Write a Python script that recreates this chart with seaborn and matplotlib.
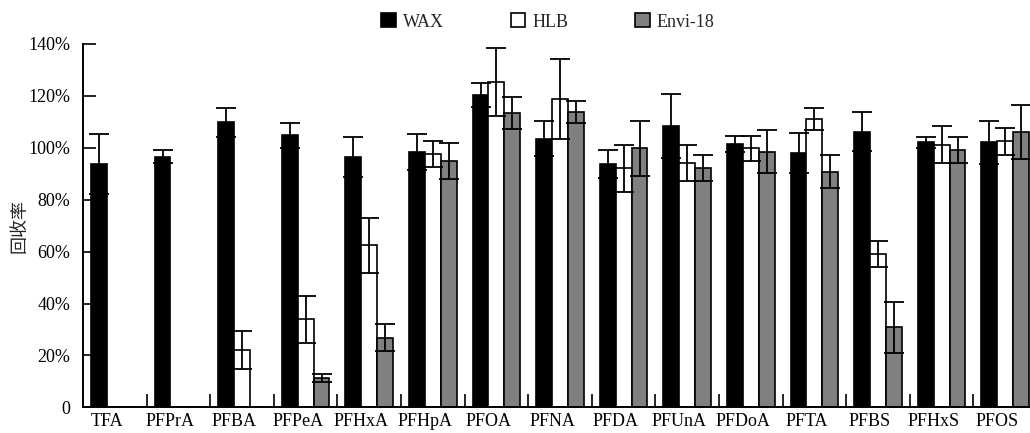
import numpy as np
import pandas as pd
import matplotlib
matplotlib.use("Agg")
import matplotlib.pyplot as plt
import seaborn as sns
from matplotlib.patches import Patch
from matplotlib.ticker import FixedLocator, FuncFormatter
from matplotlib.transforms import ScaledTranslation

# recovery (%) and standard deviation
compounds = ["TFA", "PFPrA", "PFBA", "PFPeA", "PFHxA", "PFHpA", "PFOA", "PFNA",
             "PFDA", "PFUnA", "PFDoA", "PFTA", "PFBS", "PFHxS", "PFOS"]
methods = ["WAX", "HLB", "Envi-18"]
wax = [93.8, 96.6, 109.8, 104.9, 96.6, 98.5, 120.4, 103.5, 93.8, 108.4, 101.5, 98.0, 106.2, 102.1, 102.1]
wax_err = [11.6, 2.6, 5.5, 4.8, 7.7, 6.9, 4.7, 6.8, 5.4, 12.5, 3.2, 7.6, 7.6, 2.1, 8.2]
hlb = [0, 0, 22.1, 33.9, 62.5, 97.6, 125.3, 118.8, 92.1, 94.2, 99.9, 111.1, 59.1, 101.2, 102.6]
hlb_err = [0, 0, 7.4, 9.1, 10.6, 5.0, 13.2, 15.4, 9.1, 7.0, 4.8, 4.1, 5.1, 7.1, 5.2]
envi = [0, 0, 0, 11.4, 26.8, 94.9, 113.3, 113.9, 99.9, 92.1, 98.5, 90.8, 30.9, 99.2, 106.2]
envi_err = [0, 0, 0, 1.5, 5.2, 7.0, 6.2, 4.3, 10.6, 5.0, 8.4, 6.3, 9.8, 5.0, 10.4]
colors = ["#000000", "#ffffff", "#808080"]

sns.set_style("ticks")
plt.rcParams["font.family"] = ["Liberation Serif", "Noto Sans CJK SC"]

df = pd.DataFrame({
    "compound": compounds * 3,
    "method": sum([[m] * len(compounds) for m in methods], []),
    "recovery": wax + hlb + envi,
    "err": wax_err + hlb_err + envi_err,
})

fig = plt.figure(figsize=(10.3, 4.33), dpi=100)
ax = fig.add_axes([83 / 1030, (433 - 407.3) / 433, (1030 - 83) / 1030, (407.3 - 44) / 433])

sns.barplot(data=df, x="compound", y="recovery", hue="method", hue_order=methods,
            order=compounds, palette=colors, saturation=1, edgecolor="black",
            linewidth=1.2, width=0.75, errorbar=None, legend=False, ax=ax)

# error bars on top of each bar
for cont, m in zip(ax.containers, methods):
    sub = df[df["method"] == m].set_index("compound").loc[compounds]
    for patch, v, e in zip(cont.patches, sub["recovery"], sub["err"]):
        if v <= 0:
            continue
        xc = patch.get_x() + patch.get_width() / 2
        ax.errorbar(xc, v, yerr=e, fmt="none", ecolor="black",
                    elinewidth=1.3, capsize=7, capthick=1.3)

ax.set_xlim(-0.5, 14.5 - 7 / 63.6)
ax.set_ylim(0, 140)
ax.set_yticks(np.arange(0, 141, 20))
ax.yaxis.set_major_formatter(FuncFormatter(lambda v, p: "0" if v == 0 else f"{v:.0f}%"))
ax.xaxis.set_minor_locator(FixedLocator(np.arange(0.5, 14, 1)))

for s in ["top", "right"]:
    ax.spines[s].set_visible(False)
for s in ["left", "bottom"]:
    ax.spines[s].set_linewidth(1.4)
    ax.spines[s].set_color("black")

ax.tick_params(axis="y", direction="in", length=9, width=1.2, labelsize=13, pad=9, colors="black")
ax.tick_params(axis="x", which="major", length=0, labelsize=13, pad=4, colors="black")
ax.tick_params(axis="x", which="minor", direction="in", length=9.5, width=1.2, colors="black")
for lab in ax.get_xticklabels():
    lab.set_transform(lab.get_transform() + ScaledTranslation(-0.08, 0, fig.dpi_scale_trans))

ax.set_xlabel("")
ax.set_ylabel("回收率", fontsize=13, family=["Noto Sans CJK SC"])
ax.yaxis.set_label_coords(-0.058, 0.5)

handles = [Patch(facecolor=c, edgecolor="black", linewidth=1.2) for c in colors]
fig.legend(handles, methods, loc="center", bbox_to_anchor=(548 / 1030, 1 - 22 / 433),
           ncol=3, frameon=False, fontsize=13, handlelength=0.8, handleheight=0.8,
           handletextpad=0.4, columnspacing=3.7)

fig.savefig("out.png", dpi=100)
